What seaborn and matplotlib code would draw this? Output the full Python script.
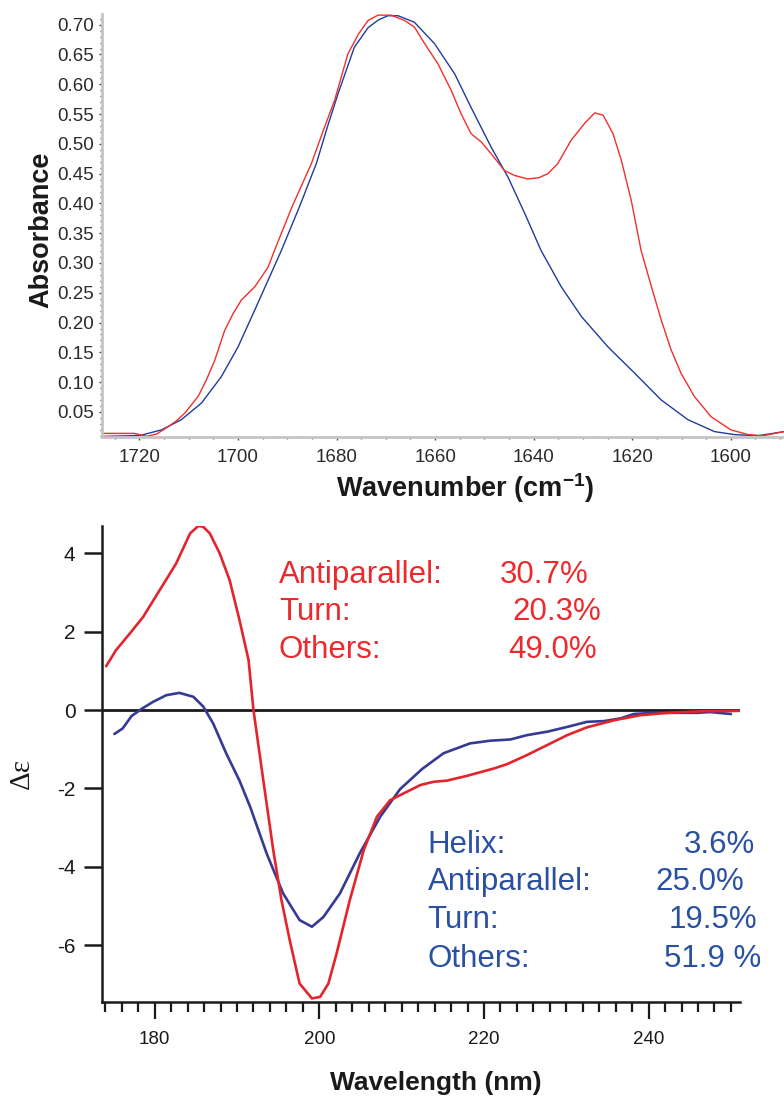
import matplotlib
matplotlib.use("Agg")
import matplotlib.pyplot as plt
from matplotlib.ticker import MultipleLocator, FixedLocator
import seaborn as sns
import numpy as np

# ---------------- data: top panel (FTIR) ----------------
ir_red_wn = [1727.5, 1724, 1721, 1718.5, 1716.5, 1714.2, 1712.5, 1710.8, 1708.1, 1706.4, 1704.7,
             1702.7, 1701, 1699.3, 1696.6, 1693.9, 1692.6, 1689, 1685.1, 1682.8, 1680.4, 1677.7, 1675.5,
             1673.6, 1671.6, 1668.9, 1666.2, 1664.2, 1662.1, 1659.4, 1656.7, 1654.7, 1652.7,
             1650.6, 1648.6, 1645.9, 1643.9, 1641.2, 1639, 1637.1, 1635.1, 1632.4, 1629.7,
             1627.6, 1625.9, 1623.9, 1622.2, 1620.2, 1618.2, 1616.1, 1614.1, 1612.1, 1610.1,
             1607.4, 1604, 1600, 1596.5, 1593.5, 1589.2]
ir_red_abs = [0.014, 0.014, 0.014, 0.009, 0.013, 0.025, 0.035, 0.048, 0.076, 0.104, 0.137,
              0.187, 0.215, 0.238, 0.260, 0.293, 0.321, 0.395, 0.467, 0.520, 0.573, 0.651, 0.685,
              0.707, 0.716, 0.716, 0.707, 0.696, 0.668, 0.634, 0.589, 0.550, 0.517,
              0.503, 0.483, 0.455, 0.447, 0.441, 0.443, 0.450, 0.467, 0.506, 0.534,
              0.552, 0.548, 0.517, 0.472, 0.405, 0.321, 0.260, 0.204, 0.154, 0.115,
              0.076, 0.042, 0.020, 0.012, 0.010, 0.017]

ir_blue_wn = [1727.5, 1722, 1719.6, 1715.5, 1711.5, 1707.4, 1703.4, 1700, 1696.6, 1693.9,
              1691.2, 1687.5, 1684.1, 1681.8, 1679.7, 1676.4, 1673.6, 1671.5, 1669.6, 1667.5, 1664.2,
              1660.1, 1656, 1652.7, 1648.6, 1645.2, 1641.8, 1638.5, 1634.4, 1630.3, 1624.9,
              1619.5, 1614.1, 1608.7, 1603.3, 1599.3, 1594.5, 1589.2]
ir_blue_abs = [0.009, 0.010, 0.011, 0.020, 0.037, 0.065, 0.109, 0.159, 0.221, 0.271,
               0.321, 0.395, 0.467, 0.530, 0.584, 0.662, 0.695, 0.708, 0.715, 0.715, 0.704,
               0.668, 0.617, 0.561, 0.494, 0.444, 0.383, 0.321, 0.260, 0.210, 0.159,
               0.115, 0.070, 0.037, 0.017, 0.012, 0.010, 0.017]

ir_xticks = [1720, 1700, 1680, 1660, 1640, 1620, 1600]
ir_yticks = [0.05, 0.10, 0.15, 0.20, 0.25, 0.30, 0.35, 0.40, 0.45, 0.50, 0.55, 0.60, 0.65, 0.70]

# ---------------- data: bottom panel (CD) ----------------
cd_red_nm = [174.1, 175.3, 177.0, 178.6, 180.6, 182.6, 184.3, 185.3, 185.9, 186.7,
             187.9, 189.1, 190.3, 191.4, 192.0, 193.2, 194.4, 195.4, 196.4, 197.6,
             199.1, 200.1, 201.1, 202.1, 203.7, 205.4, 207.0, 208.6, 210.2, 212.3,
             213.9, 215.5, 217.9, 221.2, 222.8, 225.2, 227.7, 230.1, 232.5, 235.8,
             239.0, 242.3, 246.3, 251.0]
cd_red_de = [1.12, 1.53, 1.96, 2.38, 3.06, 3.74, 4.51, 4.70, 4.68, 4.51,
             4.00, 3.32, 2.30, 1.28, 0.00, -1.80, -3.57, -4.85, -5.87, -6.98,
             -7.36, -7.32, -6.98, -6.21, -4.85, -3.57, -2.72, -2.30, -2.13, -1.91,
             -1.83, -1.80, -1.68, -1.49, -1.38, -1.15, -0.89, -0.64, -0.44, -0.26,
             -0.13, -0.07, -0.03, -0.02]

cd_blue_nm = [175.1, 176.1, 177.2, 178.4, 179.8, 181.4, 183.0, 184.7, 185.9, 187.1,
              188.7, 190.3, 191.6, 193.6, 195.6, 197.6, 199.1, 200.5, 202.5, 204.9,
              207.4, 209.8, 212.5, 215.1, 218.3, 220.8, 223.2, 225.2, 227.7, 230.1,
              232.5, 234.6, 236.6, 238.2, 240.6, 243.1, 245.9, 247.5, 250.0]
cd_blue_de = [-0.61, -0.47, -0.15, 0.03, 0.21, 0.38, 0.44, 0.34, 0.09, -0.34,
              -1.11, -1.80, -2.47, -3.66, -4.68, -5.36, -5.53, -5.28, -4.68, -3.66,
              -2.72, -2.02, -1.50, -1.10, -0.85, -0.78, -0.75, -0.64, -0.55, -0.43,
              -0.30, -0.28, -0.21, -0.10, -0.07, -0.07, -0.07, -0.05, -0.10]

cd_xticks = [180, 200, 220, 240]
cd_yticks = [-6, -4, -2, 0, 2, 4]

red_labels = ["Antiparallel:", "Turn:", "Others:"]
red_values = ["30.7%", "20.3%", "49.0%"]
blue_labels = ["Helix:", "Antiparallel:", "Turn:", "Others:"]
blue_values = ["3.6%", "25.0%", "19.5%", "51.9 %"]

# ---------------- style ----------------
sns.set_style("white")
plt.rcParams['font.family'] = ['Liberation Sans', 'DejaVu Sans']

fig = plt.figure(figsize=(7.84, 10.99), dpi=100)

# ---------- top panel ----------
ax1 = fig.add_axes([0.1301, 0.6024, 0.8699, 0.3849])
sns.lineplot(x=ir_blue_wn, y=ir_blue_abs, ax=ax1, color="#1f3c9c", lw=1.0,
             sort=False, estimator=None)
sns.lineplot(x=ir_red_wn, y=ir_red_abs, ax=ax1, color="#f0302c", lw=1.0,
             sort=False, estimator=None)
ax1.set_xlim(1727.6, 1589.2)
ax1.set_ylim(0.008, 0.718)
ax1.xaxis.set_major_locator(FixedLocator(ir_xticks))
ax1.xaxis.set_minor_locator(MultipleLocator(5))
ax1.yaxis.set_major_locator(FixedLocator(ir_yticks))
ax1.yaxis.set_minor_locator(MultipleLocator(0.01))
ax1.set_yticklabels([f"{v:.2f}" for v in ir_yticks])
for s in ["top", "right"]:
    ax1.spines[s].set_visible(False)
for s in ["left", "bottom"]:
    ax1.spines[s].set_color("#c4c4c4")
    ax1.spines[s].set_linewidth(2.0)
ax1.tick_params(axis="both", which="both", bottom=True, left=True)
ax1.tick_params(axis="both", which="major", direction="out", length=2.5, width=1,
                color="#444444", labelsize=13.5, labelcolor="#2a2a2a")
ax1.tick_params(axis="both", which="minor", direction="out", length=1.6, width=1,
                color="#555555")
ax1.tick_params(axis="x", which="major", pad=6)
ax1.tick_params(axis="y", which="major", pad=3)
ax1.set_xlabel("Wavenumber (cm$^{\\mathregular{-1}}$)", fontsize=19.5, fontweight="bold",
               color="#1a1a1a")
ax1.set_ylabel("Absorbance", fontsize=19.5, fontweight="bold", color="#1a1a1a")
ax1.xaxis.set_label_coords(0.532, -0.121)
ax1.xaxis.label.set_va("center")
ax1.yaxis.set_label_coords(-0.0894, 0.489)
ax1.yaxis.label.set_va("center")
ax1.yaxis.label.set_ha("center")

# ---------- bottom panel ----------
ax2 = fig.add_axes([0.1301, 0.0883, 0.8138, 0.4331])
ax2.axhline(0, color="#1a1a1a", lw=2.0, zorder=1)
sns.lineplot(x=cd_blue_nm, y=cd_blue_de, ax=ax2, color="#353a94", lw=1.9,
             sort=False, estimator=None, zorder=2)
sns.lineplot(x=cd_red_nm, y=cd_red_de, ax=ax2, color="#e3242b", lw=1.9,
             sort=False, estimator=None, zorder=3)
ax2.set_xlim(173.6, 251.1)
ax2.set_ylim(-7.45, 4.70)
ax2.xaxis.set_major_locator(FixedLocator(cd_xticks))
ax2.xaxis.set_minor_locator(MultipleLocator(2))
ax2.yaxis.set_major_locator(FixedLocator(cd_yticks))
ax2.set_yticklabels([str(v) for v in cd_yticks])
for s in ["top", "right"]:
    ax2.spines[s].set_visible(False)
for s in ["left", "bottom"]:
    ax2.spines[s].set_color("#1a1a1a")
    ax2.spines[s].set_linewidth(1.8)
ax2.tick_params(axis="both", which="both", bottom=True, left=True)
ax2.tick_params(axis="x", which="major", direction="out", length=12, width=1.6,
                color="#1a1a1a", labelsize=13.5, labelcolor="#1a1a1a", pad=9)
ax2.tick_params(axis="x", which="minor", direction="out", length=7, width=1.6,
                color="#1a1a1a")
ax2.tick_params(axis="y", which="major", direction="out", length=13, width=1.8,
                color="#1a1a1a", labelsize=15, labelcolor="#1a1a1a", pad=6)
ax2.set_xlabel("Wavelength (nm)", fontsize=19, fontweight="bold", color="#1a1a1a")
ax2.xaxis.set_label_coords(0.5235, -0.170)
ax2.xaxis.label.set_va("center")
ax2.set_ylabel("\u0394\u03b5", fontsize=21, family=["Liberation Serif", "DejaVu Serif"],
               color="#1a1a1a")
ax2.yaxis.set_label_coords(-0.1254, 0.481)
ax2.yaxis.label.set_va("center")
ax2.yaxis.label.set_ha("center")

# annotations
red_txt = "#ec2a2d"
blue_txt = "#2a50a2"
red_y = [0.8809, 0.8015, 0.7221]
red_vx = [0.6238, 0.6437, 0.6364]
for lab, val, yy, vx in zip(red_labels, red_values, red_y, red_vx):
    ax2.text(0.2774, yy, lab, transform=ax2.transAxes, fontsize=22.5, color=red_txt,
             ha="left", va="baseline")
    ax2.text(vx, yy, val, transform=ax2.transAxes, fontsize=22.5, color=red_txt,
             ha="left", va="baseline")
blue_y = [0.3124, 0.2353, 0.1548, 0.0742]
blue_vx = [0.9122, 0.8668, 0.8887, 0.8809]
for lab, val, yy, vx in zip(blue_labels, blue_values, blue_y, blue_vx):
    ax2.text(0.5102, yy, lab, transform=ax2.transAxes, fontsize=22.5, color=blue_txt,
             ha="left", va="baseline")
    ax2.text(vx, yy, val, transform=ax2.transAxes, fontsize=22.5, color=blue_txt,
             ha="left", va="baseline", clip_on=False)

fig.savefig("out.png", dpi=100)
